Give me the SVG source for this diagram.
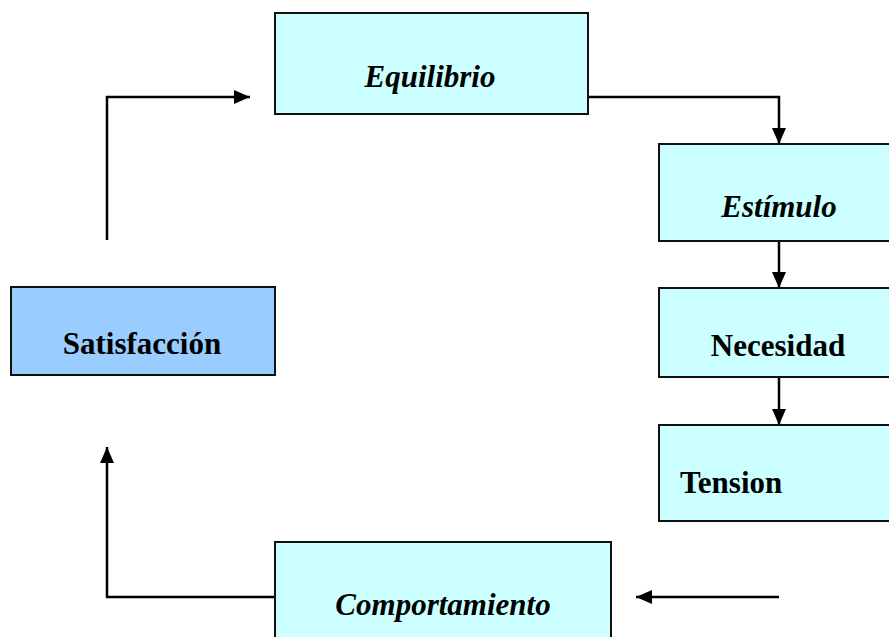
<svg xmlns="http://www.w3.org/2000/svg" width="889" height="637" viewBox="0 0 889 637">
<defs>
<style>
.box{fill:#CCFFFF;stroke:#111;stroke-width:2}
.sat{fill:#99CCFF;stroke:#111;stroke-width:2}
.t{font-family:"Liberation Serif","Times New Roman",serif;font-weight:bold;font-size:31px;fill:#000}
.i{font-style:italic}
.c{fill:none;stroke:#000;stroke-width:2.5}
</style>
<marker id="ah" viewBox="0 0 16 14" refX="16" refY="7" markerWidth="16" markerHeight="14" markerUnits="userSpaceOnUse" orient="auto">
<path d="M0,0 L16,7 L0,14 Z" fill="#000"/>
</marker>
</defs>
<rect width="889" height="637" fill="#fff"/>
<g id="connectors">
<path class="c" d="M107,240 V97 H250" stroke-width="3" marker-end="url(#ah)"/>
<path class="c" d="M588,97 H779 V144" stroke-width="1.5" marker-end="url(#ah)"/>
<path class="c" d="M779,241 V288" marker-end="url(#ah)"/>
<path class="c" d="M779,377 V425" marker-end="url(#ah)"/>
<path class="c" d="M779,597 H636" marker-end="url(#ah)"/>
<path class="c" d="M275,597 H107 V447" marker-end="url(#ah)"/>
</g>
<g id="equilibrio">
<rect class="box" x="275" y="13" width="313" height="101"/>
<text class="t i" x="430" y="87" text-anchor="middle">Equilibrio</text>
</g>
<g id="estimulo">
<rect class="box" x="659" y="144" width="240" height="97"/>
<text class="t i" x="779" y="217" text-anchor="middle">Estímulo</text>
</g>
<g id="necesidad">
<rect class="box" x="659" y="288" width="240" height="89"/>
<text class="t" x="778" y="356" text-anchor="middle">Necesidad</text>
</g>
<g id="tension">
<rect class="box" x="659" y="425" width="240" height="96"/>
<text class="t" x="680" y="493">Tension</text>
</g>
<g id="satisfaccion">
<rect class="sat" x="11" y="287" width="264" height="88"/>
<text class="t" x="142" y="354" text-anchor="middle">Satisfacción</text>
</g>
<g id="comportamiento">
<rect class="box" x="275" y="542" width="336" height="110"/>
<text class="t i" x="443" y="615" text-anchor="middle">Comportamiento</text>
</g>
</svg>
